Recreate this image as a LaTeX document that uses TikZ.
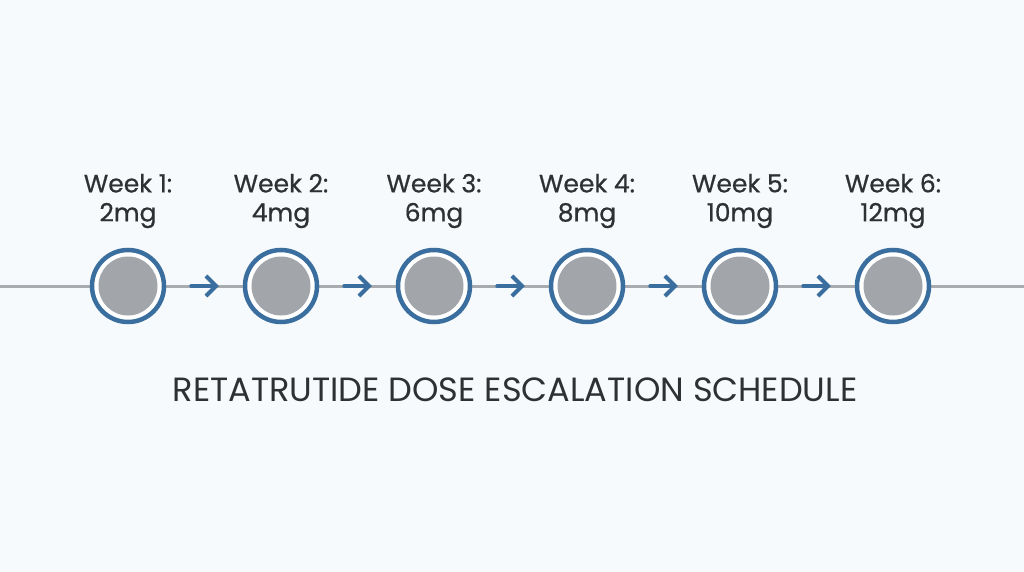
\documentclass[tikz,border=0pt]{standalone}
\usepackage{fontspec}
\setmainfont{Poppins}
\newfontfamily\labelfont{Poppins}[FakeBold=0.6]
\usetikzlibrary{arrows.meta}
\definecolor{bg}{HTML}{F6FAFC}
\definecolor{ringblue}{HTML}{3A6E9E}
\definecolor{dotgray}{HTML}{A2A6AA}
\definecolor{linegray}{HTML}{A8ACB0}
\definecolor{txt}{HTML}{2E3033}
\tikzset{
  stepring/.style={circle, draw=ringblue, line width=4.5pt, fill=white, minimum size=72pt, inner sep=0pt},
  stepdot/.style={circle, fill=dotgray, minimum size=59pt, inner sep=0pt},
  steplabel/.style={align=center, text=txt, font=\labelfont\fontsize{25}{29}\selectfont},
  steparrow/.style={draw=ringblue, line width=4pt, -{Straight Barb[length=10pt,width=20pt,line width=4pt]}, line cap=round},
  timeline/.style={draw=linegray, line width=3pt}
}
\begin{document}
\begin{tikzpicture}[x=1pt,y=-1pt]
\fill[bg] (0,0) rectangle (1024,572);
\useasboundingbox (0,0) rectangle (1024,572);
\coordinate (L) at (0,286);
\coordinate (R) at (1024,286);
\draw[timeline] (L) -- (R);
\foreach \i/\x/\d in {1/128/2mg,2/281/4mg,3/434/6mg,4/587/8mg,5/740/10mg,6/893/12mg}{
  \node[stepring] (c\i) at (\x,286) {};
  \node[stepdot] (d\i) at (\x,286) {};
  \node[steplabel] (t\i) at (\x,201) {Week \i:\\\d};
}
\foreach \a/\b in {1/2,2/3,3/4,4/5,5/6}{
  \draw[steparrow] ([xshift=25pt]c\a.east) -- ([xshift=-24pt]c\b.west);
}
\node[text=txt, font=\fontsize{33.6}{38}\selectfont] (title) at (515,390) {RETATRUTIDE DOSE ESCALATION SCHEDULE};
\end{tikzpicture}
\end{document}
